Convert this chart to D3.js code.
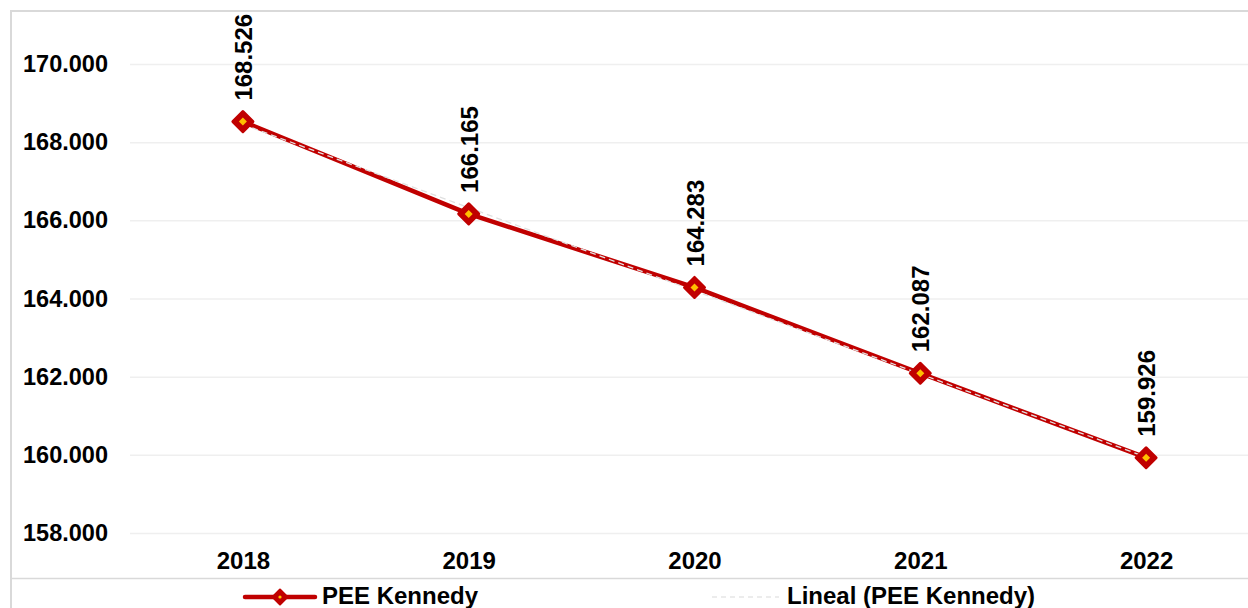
<!DOCTYPE html>
<html>
<head>
<meta charset="utf-8">
<script src="https://cdn.jsdelivr.net/npm/d3@7"></script>
<style>
  html, body { margin: 0; padding: 0; background: #fff; overflow: hidden; }
  svg { display: block; font-family: "Liberation Sans", Arial, sans-serif; }
</style>
</head>
<body>
<svg id="chart" width="1248" height="608"></svg>
<script>
// ---- data ----
const years = ["2018", "2019", "2020", "2021", "2022"];
const values = [168526, 166165, 164283, 162087, 159926];
const yTicks = [158000, 160000, 162000, 164000, 166000, 168000, 170000];
const seriesName = "PEE Kennedy";
const trendName = "Lineal (PEE Kennedy)";

const RED = "#C00000", ORANGE = "#FFC000";
const svg = d3.select("#chart");
const locale = d3.formatLocale({decimal: ",", thousands: ".", grouping: [3], currency: ["", ""]});
const fmt = locale.format(",");

// frame
svg.append("line").attr("x1", 11).attr("x2", 11).attr("y1", 11).attr("y2", 608)
  .attr("stroke", "#d9d9d9").attr("stroke-width", 2);
svg.append("line").attr("x1", 10).attr("x2", 1248).attr("y1", 11).attr("y2", 11)
  .attr("stroke", "#d9d9d9").attr("stroke-width", 2);
svg.append("line").attr("x1", 11).attr("x2", 1248).attr("y1", 578.5).attr("y2", 578.5)
  .attr("stroke", "#d9d9d9").attr("stroke-width", 1.5);

const x = d3.scalePoint().domain(years).range([130, 1259]).padding(0.5);
const y = d3.scaleLinear().domain([158000, 170000]).range([533, 64]);

// y axis + gridlines
const yAxis = svg.append("g").attr("transform", "translate(130,0)")
  .call(d3.axisLeft(y).tickValues(yTicks).tickFormat(fmt).tickSize(-1129).tickPadding(22));
yAxis.select(".domain").remove();
yAxis.selectAll(".tick line").attr("stroke", "#efefef").attr("stroke-width", 1.5);
yAxis.selectAll(".tick text").attr("font-size", 23.5).attr("font-weight", "bold")
  .attr("fill", "#000").attr("font-family", "Liberation Sans, Arial, sans-serif");

// x axis
const xAxis = svg.append("g").attr("transform", "translate(0,540)")
  .call(d3.axisBottom(x).tickSize(0));
xAxis.select(".domain").remove();
xAxis.selectAll(".tick text").attr("y", 20).attr("dy", "0.36em")
  .attr("font-size", 24).attr("font-weight", "bold").attr("fill", "#000")
  .attr("font-family", "Liberation Sans, Arial, sans-serif");

// series
const pts = years.map((yr, i) => ({yr, v: values[i]}));
svg.append("path").datum(pts)
  .attr("d", d3.line().x(d => x(d.yr)).y(d => y(d.v)))
  .attr("fill", "none").attr("stroke", RED).attr("stroke-width", 4.5)
  .attr("stroke-linejoin", "round");

// linear trend (least squares on the series)
const n = values.length;
const xs = values.map((_, i) => i);
const mx = d3.mean(xs), my = d3.mean(values);
const slope = d3.sum(xs.map((xi, i) => (xi - mx) * (values[i] - my))) / d3.sum(xs.map(xi => (xi - mx) ** 2));
const icpt = my - slope * mx;
const trendPts = [0, n - 1].map(i => ({yr: years[i], v: icpt + slope * i}));
svg.append("path").datum(trendPts)
  .attr("d", d3.line().x(d => x(d.yr)).y(d => y(d.v)))
  .attr("fill", "none").attr("stroke", "#e0e0e0").attr("stroke-width", 1.3)
  .attr("stroke-dasharray", "6,4");

// markers
const diamond = (r) => `M0,${-r}L${r},0L0,${r}L${-r},0Z`;
const mk = svg.append("g").selectAll("g").data(pts).join("g")
  .attr("transform", d => `translate(${x(d.yr)},${y(d.v)})`);
mk.append("path").attr("d", diamond(10)).attr("fill", RED)
  .attr("stroke", RED).attr("stroke-width", 3).attr("stroke-linejoin", "round");
mk.append("path").attr("d", diamond(4)).attr("fill", ORANGE);

// data labels
svg.append("g").selectAll("text").data(pts).join("text")
  .attr("transform", d => `translate(${x(d.yr) + 9},${y(d.v) - 21}) rotate(-90)`)
  .attr("text-anchor", "start").attr("font-size", 24).attr("font-weight", "bold")
  .attr("fill", "#000").text(d => fmt(d.v));

// legend
const lg = svg.append("g");
lg.append("line").attr("x1", 245).attr("x2", 315).attr("y1", 597).attr("y2", 597)
  .attr("stroke", RED).attr("stroke-width", 4.5).attr("stroke-linecap", "round");
lg.append("path").attr("transform", "translate(280,597)").attr("d", diamond(7.5))
  .attr("fill", RED).attr("stroke", RED).attr("stroke-width", 2).attr("stroke-linejoin", "round");
lg.append("circle").attr("cx", 280).attr("cy", 597).attr("r", 1.6).attr("fill", ORANGE);
lg.append("text").attr("x", 322).attr("y", 603.5).attr("font-size", 24).attr("font-weight", "bold")
  .attr("fill", "#000").text(seriesName);
lg.append("line").attr("x1", 712).attr("x2", 779).attr("y1", 597).attr("y2", 597)
  .attr("stroke", "#d9d9d9").attr("stroke-width", 1.2).attr("stroke-dasharray", "5,4");
lg.append("text").attr("x", 787).attr("y", 603.5).attr("font-size", 24).attr("font-weight", "bold")
  .attr("fill", "#000").text(trendName);
</script>
</body>
</html>
